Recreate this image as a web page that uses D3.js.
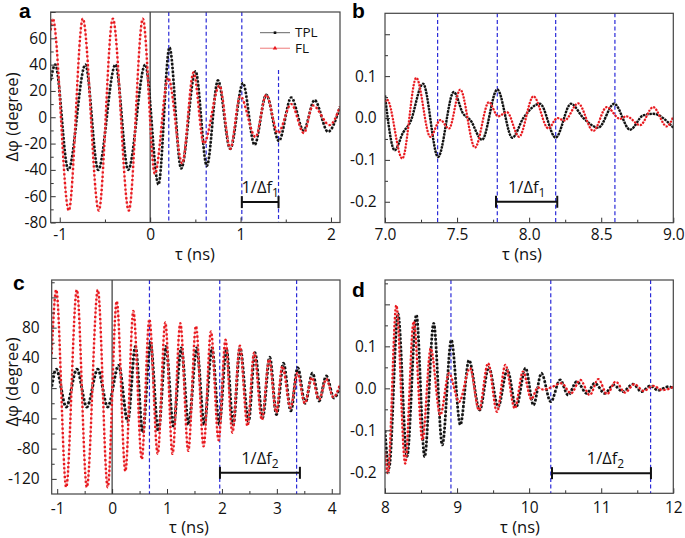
<!DOCTYPE html>
<html><head><meta charset="utf-8">
<script src="https://cdn.jsdelivr.net/npm/d3@7"></script>
<style>body{margin:0;background:#fff} svg{display:block}</style>
</head><body><svg id="chart" width="685" height="538"></svg>
<script>
// ---------------- DATA (extrema / turning points) ----------------
// Panel a
const aTPL = [[-1.1,28],[-1.05,40],[-0.905,-40],[-0.716,40],[-0.575,-40],[-0.384,40],[-0.243,-40],[-0.055,40],[0.092,-51],[0.214,53],[0.343,-39],[0.502,35],[0.627,-37],[0.75,28],[0.886,-24],[1.026,26],[1.155,-21],[1.284,17],[1.424,-18],[1.561,15],[1.697,-10],[1.819,13],[1.967,-11],[2.1,8]];
const aFL  = [[-1.1,66],[-1.077,75],[-0.9,-71],[-0.745,75],[-0.568,-71],[-0.413,75],[-0.236,-71],[-0.081,75],[0.052,-43],[0.2,30],[0.355,-35],[0.48,34],[0.594,-20],[0.767,24],[0.886,-24],[0.996,16],[1.166,-15],[1.284,17],[1.413,-12],[1.561,10],[1.7,-12],[1.8,9],[1.985,-6],[2.1,8]];
const aDash = [0.206, 0.62, 1.014, 1.42];
const aDashTop = [80, 80, 80, 36];
const aBar = [1.014, 1.42, -64.5];
// Panel b
const bTPL = [[7.0,0.054],[7.067,-0.077],[7.125,-0.035],[7.175,-0.01],[7.264,0.082],[7.368,-0.093],[7.477,0.062],[7.541,0.011],[7.592,-0.005],[7.673,-0.052],[7.779,0.068],[7.883,-0.047],[7.96,0.0],[8.075,0.034],[8.184,-0.047],[8.29,0.034],[8.376,0.0],[8.48,-0.023],[8.59,0.034],[8.7,-0.028],[8.79,0.006],[8.86,0.01],[9.0,-0.023]];
const bFL  = [[7.0,0.038],[7.014,0.044],[7.12,-0.097],[7.217,0.096],[7.314,-0.045],[7.384,-0.005],[7.444,-0.025],[7.522,0.068],[7.624,-0.071],[7.721,0.038],[7.784,0.004],[7.846,0.014],[7.93,-0.045],[8.03,0.052],[8.133,-0.025],[8.195,0.0],[8.245,-0.006],[8.34,0.035],[8.445,-0.031],[8.538,0.026],[8.63,-0.002],[8.675,0.004],[8.77,-0.017],[8.86,0.026],[8.954,-0.02],[9.0,0.003]];
const bDash = [7.365, 7.779, 8.184, 8.595];
const bBar = [7.77, 8.195, -0.2];
// Panel c
const cTPL = [[-1.1,2],[-1.018,25],[-0.836,-25],[-0.642,25],[-0.46,-25],[-0.26,25],[-0.08,-25],[0.12,30],[0.284,-44],[0.424,55],[0.557,-59],[0.696,60],[0.842,-57],[0.98,55],[1.115,-50],[1.26,53],[1.393,-48],[1.54,53],[1.678,-48],[1.818,53],[1.951,-48],[2.08,52],[2.205,-48],[2.33,53],[2.484,-44],[2.6,47],[2.74,-39],[2.87,41],[2.993,-35],[3.12,33],[3.254,-30],[3.38,27],[3.514,-20],[3.65,20],[3.77,-17],[3.9,16],[4.04,-13],[4.15,2]];
const cFL  = [[-1.1,45],[-1.018,130],[-0.836,-131],[-0.642,130],[-0.46,-131],[-0.26,130],[-0.08,-131],[0.084,115],[0.242,-110],[0.387,102],[0.54,-94],[0.678,91],[0.83,-87],[0.969,87],[1.1,-87],[1.242,86],[1.387,-83],[1.527,82],[1.666,-77],[1.8,75],[1.94,-69],[2.065,64],[2.19,-59],[2.327,56],[2.465,-50],[2.587,47],[2.727,-42],[2.86,38],[2.99,-32],[3.1,29],[3.25,-26],[3.375,20],[3.51,-20],[3.636,14],[3.77,-15],[3.9,12],[4.03,-12],[4.15,5]];
const cDash = [0.68, 1.96, 3.36];
const cBar = [1.964, 3.42, -112];
// Panel d
const dTPL = [[8.0,-0.1],[8.055,-0.19],[8.18,0.178],[8.305,-0.163],[8.435,0.175],[8.55,-0.163],[8.675,0.155],[8.795,-0.135],[8.92,0.115],[9.045,-0.087],[9.165,0.067],[9.314,-0.052],[9.44,0.05],[9.57,-0.044],[9.697,0.044],[9.82,-0.044],[9.95,0.048],[10.06,-0.04],[10.17,0.036],[10.3,-0.032],[10.43,0.02],[10.54,-0.016],[10.66,0.016],[10.8,-0.012],[10.91,0.012],[11.05,-0.012],[11.17,0.008],[11.3,-0.008],[11.44,0.01],[11.56,-0.008],[11.68,0.006],[11.79,-0.005],[11.93,0.004],[12.0,0.0]];
const dFL  = [[8.0,-0.15],[8.04,-0.202],[8.157,0.198],[8.28,-0.179],[8.398,0.159],[8.52,-0.123],[8.634,0.095],[8.767,-0.064],[8.888,0.036],[9.027,-0.032],[9.18,0.048],[9.304,-0.052],[9.43,0.06],[9.554,-0.056],[9.67,0.056],[9.8,-0.048],[9.915,0.04],[10.03,-0.026],[10.12,0.002],[10.2,-0.003],[10.3,0.002],[10.45,0.012],[10.58,-0.012],[10.71,0.02],[10.84,-0.016],[10.96,0.022],[11.08,-0.014],[11.2,0.016],[11.33,-0.01],[11.46,0.01],[11.59,-0.006],[11.72,0.006],[11.85,-0.004],[12.0,0.003]];
const dDash = [8.915, 10.3, 11.685];
const dBar = [10.317, 11.69, -0.202];
// tick values
const aXT = [-1,0,1,2], aXm = [-0.5,0.5,1.5];
const aYT = [-80,-60,-40,-20,0,20,40,60,80], aYm = [-70,-50,-30,-10,10,30,50,70];
const bXT = [7,7.5,8,8.5,9], bXm = [7.25,7.75,8.25,8.75];
const bYT = [-0.2,-0.1,0,0.1,0.2], bYm = [-0.15,-0.05,0.05,0.15];
const cXT = [-1,0,1,2,3,4], cXm = [-0.5,0.5,1.5,2.5,3.5];
const cYT = [-120,-80,-40,0,40,80,120], cYm = [-100,-60,-20,20,60,100,140];
const dXT = [8,9,10,11,12], dXm = [8.5,9.5,10.5,11.5];
const dYT = [-0.2,-0.1,0,0.1,0.2], dYm = [-0.15,-0.05,0.05,0.15,0.25];
const seriesNames = ["TPL","FL"];

// ---------------- DRAW ----------------
const svg = d3.select('#chart');
const FONT = "'Open Sans', 'DejaVu Sans', sans-serif";
const BLUE = '#2a2ad8', RED = '#e8161c';
const defs = svg.append('defs');

function panel(o){
  const x = d3.scaleLinear().domain(o.xd).range([o.x0,o.x1]);
  const y = d3.scaleLinear().domain(o.yd).range([o.y1,o.y0]);
  const g = svg.append('g');
  defs.append('clipPath').attr('id','clip'+o.id).append('rect')
    .attr('x',o.x0).attr('y',o.y0).attr('width',o.x1-o.x0).attr('height',o.y1-o.y0);
  o.dash.forEach((t,i)=>{
    g.append('line').attr('x1',x(t)).attr('x2',x(t))
      .attr('y1', o.dashTop ? y(o.dashTop[i]) : o.y0).attr('y2', o.y1)
      .attr('stroke',BLUE).attr('stroke-width',1.2).attr('stroke-dasharray','4,2.6');
  });
  if (o.zero) {
    g.append('line').attr('x1',x(0)).attr('x2',x(0)).attr('y1',o.y0).attr('y2',o.y1)
      .attr('stroke','#111').attr('stroke-width',1);
  }
  const line = d3.line().x(d=>x(d[0])).y(d=>y(d[1])).curve(d3.curveMonotoneX);
  const cg = g.append('g').attr('clip-path',`url(#clip${o.id})`);
  cg.append('path').datum(o.tpl).attr('d',line).attr('fill','none')
    .attr('stroke','#777').attr('stroke-width',0.8);
  cg.append('path').datum(o.tpl).attr('d',line).attr('fill','none')
    .attr('stroke','#111').attr('stroke-width',o.bw).attr('stroke-dasharray',o.bdash);
  cg.append('path').datum(o.fl).attr('d',line).attr('fill','none')
    .attr('stroke','#f3a0a0').attr('stroke-width',1);
  cg.append('path').datum(o.fl).attr('d',line).attr('fill','none')
    .attr('stroke',RED).attr('stroke-width',o.rw).attr('stroke-dasharray',o.rdash);
  const ax = (sel)=>{ sel.select('.domain').remove(); sel.selectAll('line').attr('stroke','#333');
    sel.attr('font-family',FONT).attr('font-size',15.5); sel.selectAll('text').attr('fill','#111'); };
  g.append('g').attr('transform',`translate(0,${o.y1})`)
    .call(d3.axisBottom(x).tickValues(o.xt).tickSize(-5).tickPadding(o.xpad).tickFormat(o.xf)).call(ax);
  g.append('g').attr('transform',`translate(0,${o.y1})`)
    .call(d3.axisBottom(x).tickValues(o.xm).tickSize(-3).tickFormat('')).call(ax);
  g.append('g').attr('transform',`translate(${o.x0},0)`)
    .call(d3.axisLeft(y).tickValues(o.yt).tickSize(-5).tickPadding(o.ypad).tickFormat(o.yf)).call(ax);
  g.append('g').attr('transform',`translate(${o.x0},0)`)
    .call(d3.axisLeft(y).tickValues(o.ym).tickSize(-3).tickFormat('')).call(ax);
  g.append('rect').attr('x',o.x0).attr('y',o.y0).attr('width',o.x1-o.x0).attr('height',o.y1-o.y0)
    .attr('fill','none').attr('stroke','#444').attr('stroke-width',1.2);
  const by = y(o.bar[2]);
  const bx1 = x(o.bar[0]), bx2 = x(o.bar[1]);
  g.append('line').attr('x1',bx1).attr('x2',bx2).attr('y1',by).attr('y2',by).attr('stroke','#111').attr('stroke-width',2);
  [bx1,bx2].forEach(bx=>g.append('line').attr('x1',bx).attr('x2',bx).attr('y1',by-6).attr('y2',by+6).attr('stroke','#111').attr('stroke-width',2));
  const t = g.append('text').attr('x',(bx1+bx2)/2 + (o.barDx||0)).attr('y',by-9).attr('text-anchor','middle')
    .attr('font-family',FONT).attr('font-size',16.5).attr('fill','#111');
  t.append('tspan').text('1/Δf');
  t.append('tspan').attr('dy',4).attr('font-size',12).text(o.sub);
  g.append('text').attr('x',o.xlx).attr('y',o.xly).attr('text-anchor','middle')
    .attr('font-family',FONT).attr('font-size',16.5).attr('fill','#111').text('τ (ns)');
  if (o.ylab) {
    g.append('text').attr('transform',`translate(18,${o.yly}) rotate(-90)`).attr('text-anchor','middle')
      .attr('font-family',FONT).attr('font-size',16.5).attr('fill','#111').text('Δφ (degree)');
  }
  g.append('text').attr('x',o.lx).attr('y',o.ly).attr('font-family',"'Liberation Sans', Arial, sans-serif")
    .attr('font-weight','bold').attr('font-size',21).attr('fill','#000').text(o.id);
  return {x,y,g};
}

const intF = top => d => d===top ? '' : String(d);
const decF = d => Math.abs(d-0.2)<1e-9 ? '' : d.toFixed(1);

const A = panel({id:'a', x0:50.7,x1:340,y0:12,y1:222.5, xd:[-1.1,2.1], yd:[-80,80],
  tpl:aTPL, fl:aFL, dash:aDash, dashTop:aDashTop, zero:true, bar:aBar, sub:'1',
  xt:aXT, xm:aXm, yt:aYT, ym:aYm, xf:d=>String(d), yf:intF(80), xpad:6.5, ypad:3.6,
  bw:2.6, bdash:'2.4,1.5', rw:2.4, rdash:'2.2,2.2',
  xlx:195, xly:260, ylab:true, yly:117, lx:19, ly:18});
panel({id:'b', x0:385,x1:673.3,y0:13.3,y1:222.7, xd:[7,9], yd:[-0.25,0.25],
  tpl:bTPL, fl:bFL, dash:bDash, zero:false, bar:bBar, sub:'1',
  xt:bXT, xm:bXm, yt:bYT, ym:bYm, xf:d=>d.toFixed(1), yf:decF, xpad:5.8, ypad:8.3,
  bw:2.4, bdash:'2.4,0.9', rw:2.2, rdash:'2,1.3',
  xlx:522, xly:260, ylab:false, lx:352, ly:18});
panel({id:'c', x0:51.7,x1:340,y0:280,y1:494, xd:[-1.1,4.15], yd:[-140,143],
  tpl:cTPL, fl:cFL, dash:cDash, zero:true, bar:cBar, sub:'2',
  xt:cXT, xm:cXm, yt:cYT, ym:cYm, xf:d=>String(d), yf:intF(120), xpad:8.8, ypad:12,
  bw:2.9, bdash:'2.6,1.8', rw:2.4, rdash:'2.2,2.2',
  xlx:189, xly:533, ylab:true, yly:382, lx:13, ly:290});
panel({id:'d', x0:385,x1:673.3,y0:280,y1:493.3, xd:[8,12], yd:[-0.25,0.258],
  tpl:dTPL, fl:dFL, dash:dDash, zero:false, bar:dBar, sub:'2', barDx:4,
  xt:dXT, xm:dXm, yt:dYT, ym:dYm, xf:d=>String(d), yf:decF, xpad:8.3, ypad:8.3,
  bw:2.7, bdash:'2.5,1.6', rw:2.3, rdash:'2.2,1.8',
  xlx:520, xly:533, ylab:false, lx:352, ly:297});

const leg = A.g.append('g');
seriesNames.forEach((n,i)=>{
  const ly = 32.7 + i*15.6;
  leg.append('line').attr('x1',260).attr('x2',290).attr('y1',ly).attr('y2',ly)
    .attr('stroke', i===0 ? '#666' : '#f3a0a0').attr('stroke-width', i===0?1:1.4);
  if (i===0) leg.append('rect').attr('x',273.7).attr('y',ly-1.3).attr('width',2.6).attr('height',2.6).attr('fill','#111');
  else leg.append('path').attr('d',d3.symbol(d3.symbolTriangle,9)()).attr('transform',`translate(275,${ly})`).attr('fill',RED);
  leg.append('text').attr('x',295).attr('y',ly+4.5).attr('font-family',FONT).attr('font-size',13.5).attr('fill','#111').text(n);
});
</script></body></html>
